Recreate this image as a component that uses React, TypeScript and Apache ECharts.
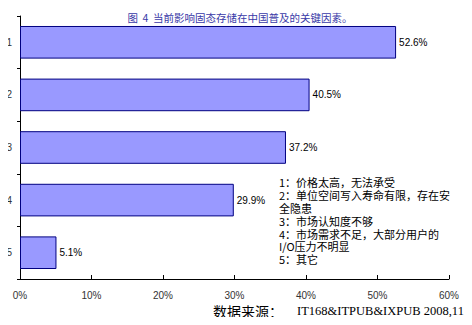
import React, { useEffect, useRef } from "react";
import * as echarts from "echarts";

const categories = ["1", "2", "3", "4", "5"];
const values = [52.6, 40.5, 37.2, 29.9, 5.1];
const xTicks = [0, 10, 20, 30, 40, 50, 60];
const titleText = "图  4  当前影响固态存储在中国普及的关键因素。";
const legendLines = [
  "1：价格太高，无法承受",
  "2：单位空间写入寿命有限，存在安",
  "全隐患",
  "3：市场认知度不够",
  "4：市场需求不足，大部分用户的",
  "I/O压力不明显",
  "5：其它",
];
const sourceLabel = "数据来源：";
const sourceValue = "IT168&ITPUB&IXPUB 2008,11";

export default function App() {
  const ref = useRef<HTMLDivElement>(null);
  useEffect(() => {
    const chart = echarts.init(ref.current!, null, { renderer: "svg" });
    chart.setOption({
      animation: false,
      backgroundColor: "#ffffff",
      title: {
        text: titleText,
        left: 235,
        textAlign: "center",
        top: 7,
        textStyle: {
          color: "#3a3aa8",
          fontSize: 10.5,
          fontWeight: "normal",
          fontFamily: "Noto Sans CJK SC",
        },
      },
      grid: { left: 20, right: 23, top: 16, bottom: 46 },
      xAxis: {
        type: "value",
        min: xTicks[0],
        max: xTicks[xTicks.length - 1],
        interval: 10,
        axisLine: { show: true, lineStyle: { color: "#000", width: 1 } },
        axisTick: { show: true, inside: true, length: 4, lineStyle: { color: "#000" } },
        splitLine: { show: false },
        axisLabel: {
          formatter: "{value}%",
          color: "#333",
          fontSize: 10,
          margin: 11,
          fontFamily: "Liberation Sans",
        },
      },
      yAxis: {
        type: "category",
        data: categories,
        inverse: true,
        axisLine: { show: true, lineStyle: { color: "#000", width: 1 } },
        axisTick: { show: true, length: 3, lineStyle: { color: "#000" } },
        axisLabel: { color: "#333", fontSize: 10, margin: 8, fontFamily: "Liberation Sans" },
      },
      series: [
        {
          type: "bar",
          data: values,
          barCategoryGap: "38%",
          itemStyle: { color: "#9999ff", borderColor: "#000080", borderWidth: 1 },
          label: {
            show: true,
            position: "right",
            distance: 3,
            formatter: "{c}%",
            color: "#000",
            fontSize: 10,
            fontFamily: "Liberation Sans",
          },
        },
      ],
      graphic: [
        {
          type: "text",
          x: 279,
          y: 176,
          style: {
            text: legendLines.join("\n"),
            fontSize: 11,
            lineHeight: 12.8,
            fill: "#000",
            fontFamily: "Noto Sans CJK SC",
          },
        },
        {
          type: "text",
          x: 213,
          y: 311,
          style: {
            text: sourceLabel,
            fontSize: 14,
            fill: "#000",
            verticalAlign: "middle",
            fontFamily: "Noto Sans CJK SC",
          },
        },
        {
          type: "text",
          x: 297,
          y: 311,
          style: {
            text: sourceValue,
            fontSize: 12.5,
            fill: "#000",
            verticalAlign: "middle",
            fontFamily: "Liberation Serif",
          },
        },
      ],
    });
    return () => chart.dispose();
  }, []);
  return <div ref={ref} style={{ width: 472, height: 325, margin: -8 }} />;
}
